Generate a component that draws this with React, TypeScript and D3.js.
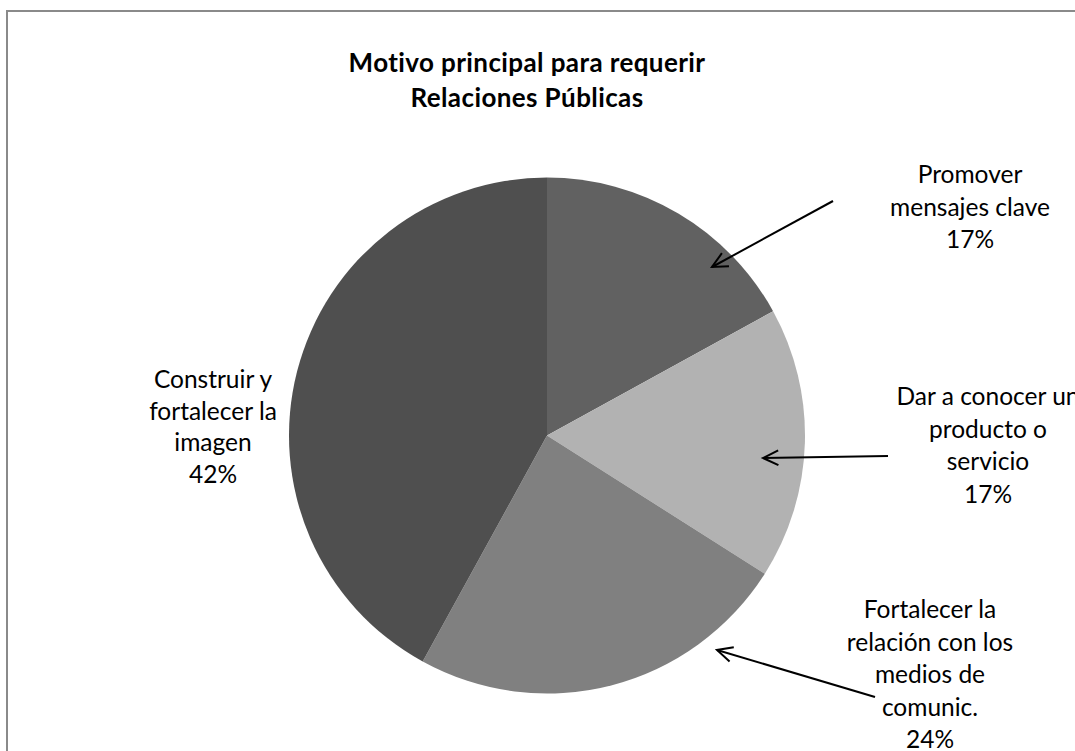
import React from "react";
import * as d3 from "d3";

const categories = [
  "Promover mensajes clave",
  "Dar a conocer un producto o servicio",
  "Fortalecer la relación con los medios de comunic.",
  "Construir y fortalecer la imagen",
];
const values = [17, 17, 24, 42];
const colors = ["#616161", "#b2b2b2", "#808080", "#4f4f4f"];
const labelLines = [
  ["Promover", "mensajes clave", "17%"],
  ["Dar a conocer un", "producto o", "servicio", "17%"],
  ["Fortalecer la", "relación con los", "medios de", "comunic.", "24%"],
  ["Construir y", "fortalecer la", "imagen", "42%"],
];
const titleLines = ["Motivo principal para requerir", "Relaciones Públicas"];

const W = 1075;
const H = 751;
const cx = 547;
const cy = 435.5;
const R = 258;
const FONT = "Lato, 'Open Sans', sans-serif";

// label anchor (center x, first baseline y, line gap)
const labelPos: [number, number, number][] = [
  [970, 183, 32.5],
  [988, 405, 32.5],
  [930, 618, 32.5],
  [213, 388, 31.5],
];

// arrows: [fromX, fromY, toX, toY]
const arrows: [number, number, number, number][] = [
  [833, 201, 712, 267],
  [888, 456, 763, 458],
  [875, 697, 717, 650],
];

export default function App() {
  const pie = d3
    .pie<number>()
    .sort(null)
    .value((d) => d);
  const arcs = pie(values);
  const arcGen = d3.arc<d3.PieArcDatum<number>>().innerRadius(0).outerRadius(R);

  const head = (x1: number, y1: number, x2: number, y2: number) => {
    const ang = Math.atan2(y2 - y1, x2 - x1);
    const L = 17;
    const spread = 0.45;
    const a1 = ang + Math.PI - spread;
    const a2 = ang + Math.PI + spread;
    return `M${x2 + L * Math.cos(a1)},${y2 + L * Math.sin(a1)} L${x2},${y2} L${x2 + L * Math.cos(a2)},${y2 + L * Math.sin(a2)}`;
  };

  return (
    <svg
      width={W}
      height={H}
      style={{ position: "absolute", left: 0, top: 0, background: "#fff" }}
    >
      <rect x={0} y={0} width={W} height={H} fill="#fff" />
      <path d={`M7,${H + 5} L7,11 L${W + 5},11`} fill="none" stroke="#8a8a8a" strokeWidth={2} />
      <g fontFamily={FONT} fontWeight="bold" fontSize={26} letterSpacing={0.4} fill="#000" textAnchor="middle">
        {titleLines.map((t, i) => (
          <text key={i} x={527} y={72 + i * 35}>
            {t}
          </text>
        ))}
      </g>
      <g transform={`translate(${cx},${cy})`}>
        {arcs.map((a, i) => (
          <path key={categories[i]} d={arcGen(a) || ""} fill={colors[i]} />
        ))}
      </g>
      <g fontFamily={FONT} fontSize={24.5} fill="#000" textAnchor="middle">
        {labelLines.map((lines, i) =>
          lines.map((t, j) => (
            <text
              key={`${i}-${j}`}
              x={labelPos[i][0]}
              y={labelPos[i][1] + j * labelPos[i][2]}
            >
              {t}
            </text>
          ))
        )}
      </g>
      <g stroke="#000" strokeWidth={2} fill="none">
        {arrows.map((a, i) => (
          <g key={i}>
            <line x1={a[0]} y1={a[1]} x2={a[2]} y2={a[3]} />
            <path d={head(a[0], a[1], a[2], a[3])} />
          </g>
        ))}
      </g>
    </svg>
  );
}
